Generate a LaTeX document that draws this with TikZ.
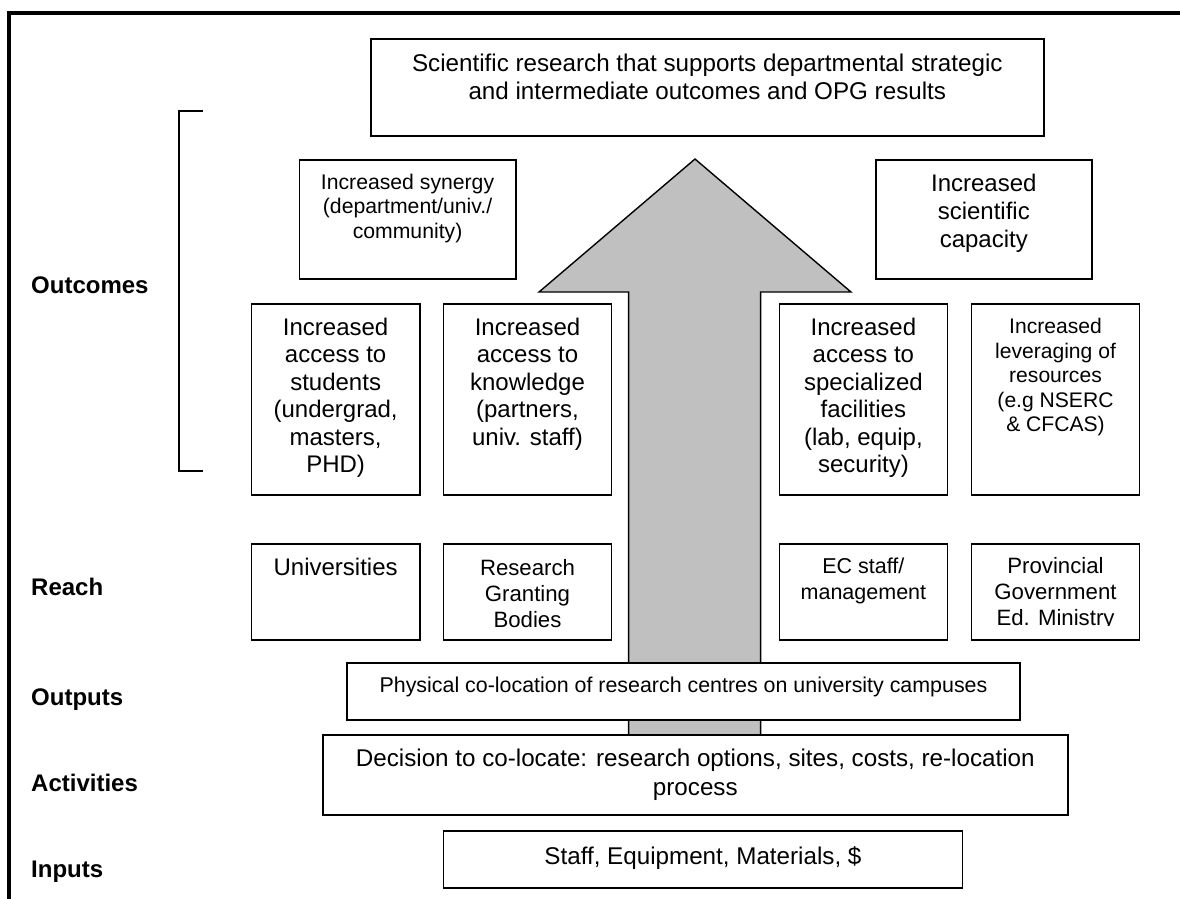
\documentclass[tikz,border=0pt]{standalone}
\usepackage{fontspec}
\setmainfont{Liberation Sans}
\newcommand{\fsz}[2]{\fontsize{#1pt}{#2pt}\selectfont}
\definecolor{arrowgray}{HTML}{C0C0C0}
\tikzset{
  box/.style={draw=black, line width=1.6pt, fill=white, anchor=north west, inner sep=0pt},
  txt/.style={anchor=north, align=center, inner sep=0pt},
  lbl/.style={anchor=base west, inner sep=0pt, font=\bfseries\fsz{24}{28}},
  frame/.style={line width=4pt, draw=black},
  brk/.style={line width=1.6pt, draw=black},
  bigarrow/.style={draw=black, line width=1.4pt, fill=arrowgray, line join=miter},
}
\begin{document}
\begin{tikzpicture}[x=1pt,y=-1pt]
\useasboundingbox (0,0) rectangle (1180,898);
% frame
\coordinate (fb) at (8.8,902);
\coordinate (fc) at (8.8,12.5);
\coordinate (fr) at (1185,12.5);
\draw[frame] (fb) -- (fc) -- (fr);
% bracket
\coordinate (b1) at (203,111);
\coordinate (b2) at (179,111);
\coordinate (b3) at (179,471);
\coordinate (b4) at (203,471);
\draw[brk] (b1) -- (b2) -- (b3) -- (b4);
% big arrow
\coordinate (a1) at (628.6,750);
\coordinate (a2) at (628.6,292);
\coordinate (a3) at (539,292);
\coordinate (a4) at (695,159);
\coordinate (a5) at (851,292);
\coordinate (a6) at (760.6,292);
\coordinate (a7) at (760.6,750);
\draw[bigarrow] (a1) -- (a2) -- (a3) -- (a4) -- (a5) -- (a6) -- (a7) -- cycle;
% top box
\node[box, minimum width=673pt, minimum height=97pt] (top) at (370,38) {};
\node[txt, font=\fsz{24.2}{27.8}] (topt) at ([yshift=-14pt]top.north) {\strut Scientific research that supports departmental strategic\\ and intermediate outcomes and OPG results};
% second row
\node[box, minimum width=216.5pt, minimum height=119pt] (syn) at (298.5,159) {};
\node[txt, font=\fsz{21.2}{24.4}] (synt) at ([yshift=-13.2pt]syn.north) {\strut Increased synergy\\(department/univ./\\community)};
\node[box, minimum width=216pt, minimum height=119pt] (cap) at (875,159) {};
\node[txt, font=\fsz{24}{27.6}] (capt) at ([yshift=-13.3pt]cap.north) {\strut Increased\\scientific\\capacity};
% outcome boxes
\node[box, minimum width=168.3pt, minimum height=191pt] (o1) at (250.7,303) {};
\node[txt, font=\fsz{24}{27.4}] (o1t) at ([yshift=-13.2pt]o1.north) {\strut Increased\\access to\\students\\(undergrad,\\masters,\\PHD)};
\node[box, minimum width=167.8pt, minimum height=191pt] (o2) at (442.8,303) {};
\node[txt, font=\fsz{24}{27.4}] (o2t) at ([yshift=-13.2pt]o2.north) {\strut Increased\\access to\\knowledge\\(partners,\\univ. staff)};
\node[box, minimum width=168pt, minimum height=191pt] (o3) at (778.6,303) {};
\node[txt, font=\fsz{24}{27.4}] (o3t) at ([yshift=-13.2pt]o3.north) {\strut Increased\\access to\\specialized\\facilities\\(lab, equip,\\security)};
\node[box, minimum width=168pt, minimum height=191pt] (o4) at (970.7,303) {};
\node[txt, font=\fsz{21.1}{24.5}] (o4t) at ([yshift=-13.6pt]o4.north) {\strut Increased\\leveraging of\\resources\\(e.g NSERC\\\& CFCAS)};
% reach boxes
\node[box, minimum width=168.3pt, minimum height=96pt] (r1) at (250.7,543) {};
\node[txt, font=\fsz{24}{27.6}] (r1t) at ([yshift=-13pt]r1.north) {\strut Universities};
\node[box, minimum width=167.8pt, minimum height=96pt] (r2) at (442.8,543) {};
\node[txt, font=\fsz{22.2}{26}] (r2t) at ([yshift=-13.7pt]r2.north) {\strut Research\\Granting\\Bodies};
\node[box, minimum width=168pt, minimum height=96pt] (r3) at (778.6,543) {};
\node[txt, font=\fsz{21.5}{26}] (r3t) at ([yshift=-11.7pt]r3.north) {\strut EC staff/\\management};
\node[box, minimum width=168pt, minimum height=96pt] (r4) at (970.7,543) {};
\begin{scope}
\clip (970.7,543) rectangle (1138.7,625.5);
\node[txt, font=\fsz{22.2}{26}] (r4t) at ([yshift=-11.7pt]r4.north) {\strut Provincial\\Government\\Ed. Ministry};
\end{scope}
% outputs / activities / inputs
\node[box, minimum width=672.6pt, minimum height=57pt] (out) at (346.4,662) {};
\node[txt, font=\fsz{21.4}{24.6}] (outt) at ([yshift=-13.5pt]out.north) {\strut Physical co-location of research centres on university campuses};
\node[box, minimum width=745pt, minimum height=80pt] (act) at (322,734) {};
\node[txt, font=\fsz{24.2}{29}] (actt) at ([yshift=-12.4pt]act.north) {\strut Decision to co-locate: research options, sites, costs, re-location\\process};
\node[box, minimum width=518.7pt, minimum height=57pt] (inp) at (442.8,830) {};
\node[txt, font=\fsz{24.2}{27.8}] (inpt) at ([yshift=-15.2pt]inp.north) {\strut Staff, Equipment, Materials, \$};
% row labels
\node[lbl] (lout) at (31,293.6) {Outcomes};
\node[lbl] (lrea) at (31,595.6) {Reach};
\node[lbl] (lopt) at (31,705.6) {Outputs};
\node[lbl] (lact) at (31,791.6) {Activities};
\node[lbl] (linp) at (31,877.6) {Inputs};
\end{tikzpicture}
\end{document}
